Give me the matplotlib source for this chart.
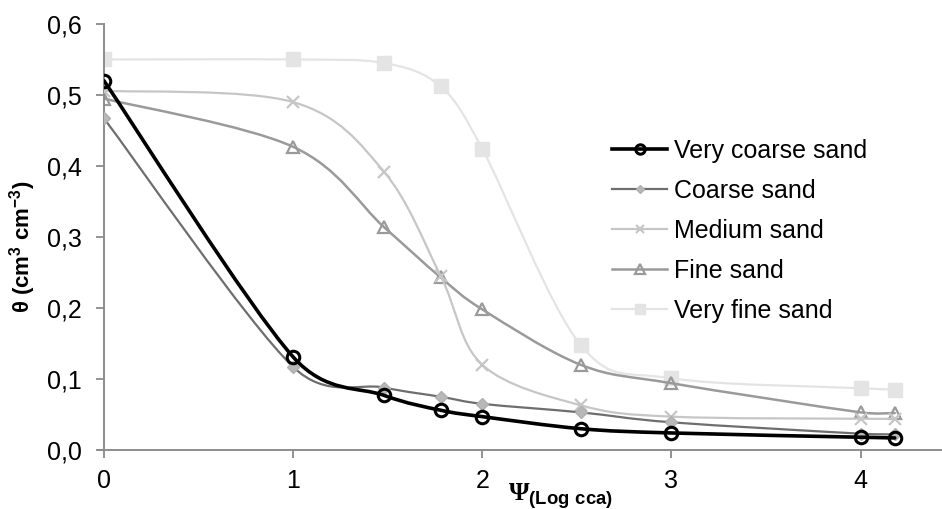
import numpy as np
import matplotlib.pyplot as plt
from matplotlib.path import Path
from matplotlib.patches import PathPatch
from matplotlib.lines import Line2D

plt.rcParams['font.family'] = ['Liberation Sans', 'DejaVu Sans']
plt.rcParams['mathtext.fontset'] = 'custom'
plt.rcParams['mathtext.rm'] = 'Liberation Serif:bold'
plt.rcParams['mathtext.bf'] = 'Liberation Sans:bold'

# suction, log10 of cm of water column
psi = [0, 1, 1.48, 1.78, 2, 2.52, 3, 4, 4.18]

very_coarse = [0.520, 0.131, 0.077, 0.056, 0.047, 0.030, 0.024, 0.018, 0.017]
coarse      = [0.467, 0.117, 0.088, 0.075, 0.065, 0.053, 0.039, 0.023, 0.022]
medium      = [0.506, 0.490, 0.392, 0.245, 0.120, 0.063, 0.047, 0.044, 0.044]
fine        = [0.495, 0.427, 0.314, 0.243, 0.198, 0.120, 0.094, 0.053, 0.052]
very_fine   = [0.550, 0.550, 0.545, 0.512, 0.424, 0.148, 0.101, 0.087, 0.085]

names = ['Very coarse sand', 'Coarse sand', 'Medium sand', 'Fine sand', 'Very fine sand']
y_ticks = [0.0, 0.1, 0.2, 0.3, 0.4, 0.5, 0.6]
x_ticks = [0, 1, 2, 3, 4]


def smooth_path(x, y, tr):
    # excel style smoothing: handles = 1/6 of neighbour chord, capped at half the segment
    p = np.column_stack([x, y]).astype(float)
    d = tr.transform(p)
    n = len(p)
    verts = [p[0]]
    codes = [Path.MOVETO]
    for i in range(n - 1):
        i0 = max(i - 1, 0)
        i3 = min(i + 2, n - 1)
        d12 = np.hypot(*(d[i + 1] - d[i]))
        d02 = np.hypot(*(d[i + 1] - d[i0]))
        d13 = np.hypot(*(d[i3] - d[i]))
        f0 = 1 / 6 if d02 / 6 < d12 / 2 else d12 / d02 / 2
        f3 = 1 / 6 if d13 / 6 < d12 / 2 else d12 / d13 / 2
        c1 = p[i] + (p[i + 1] - p[i0]) * f0
        c2 = p[i + 1] - (p[i3] - p[i]) * f3
        verts += [c1, c2, p[i + 1]]
        codes += [Path.CURVE4] * 3
    return Path(verts, codes)


styles = [
    dict(color='#000000', lw=2.6, marker='o', ms=9, mfc='none', mec='#000000', mew=2.2),
    dict(color='#6e6e6e', lw=1.6, marker='D', ms=6, mfc='#b8b8b8', mec='#b0b0b0', mew=1),
    dict(color='#c6c6c6', lw=1.6, marker='x', ms=8, mfc='none', mec='#c6c6c6', mew=1.6),
    dict(color='#9a9a9a', lw=1.8, marker='^', ms=9, mfc='none', mec='#9a9a9a', mew=1.6),
    dict(color='#e4e4e4', lw=1.6, marker='s', ms=10, mfc='#e4e4e4', mec='#e4e4e4', mew=1),
]

fig = plt.figure(figsize=(9.42, 5.09), dpi=100)
ax = fig.add_axes([104 / 942, 59 / 509, 1 - 104 / 942, 426 / 509])
ax.set_xlim(0, 4.43)
ax.set_ylim(0, 0.6)

series = [very_coarse, coarse, medium, fine, very_fine]
handles = []
for vals, st, name, z in zip(series, styles, names, [5, 4, 3, 2, 1]):
    ax.add_patch(PathPatch(smooth_path(psi, vals, ax.transData), fill=False,
                           edgecolor=st['color'], lw=st['lw'], zorder=z, capstyle='round'))
    ax.plot(psi, vals, ls='none', marker=st['marker'], ms=st['ms'], mfc=st['mfc'],
            mec=st['mec'], mew=st['mew'], zorder=z + 0.5)
    handles.append(Line2D([], [], color=st['color'], lw=st['lw'], marker=st['marker'],
                          ms=st['ms'] * 0.75, mfc=st['mfc'], mec=st['mec'], mew=st['mew']))

ax.set_xticks(x_ticks)
ax.set_xticklabels([str(t) for t in x_ticks], fontsize=18)
ax.set_yticks(y_ticks)
ax.set_yticklabels([f'{t:.1f}'.replace('.', ',') for t in y_ticks], fontsize=18)
ax.tick_params(axis='both', direction='out', length=6, color='#808080', width=1.2)
ax.tick_params(axis='x', pad=8)
ax.tick_params(axis='y', pad=10)
for s in ['top', 'right']:
    ax.spines[s].set_visible(False)
for s in ['left', 'bottom']:
    ax.spines[s].set_color('#8c8c8c')
    ax.spines[s].set_linewidth(1.4)
ax.spines['bottom'].set_bounds(-0.03, 4.43)

ax.set_ylabel(r'θ (cm$^{\mathbf{3}}$ cm$^{\mathbf{-3}}$)', fontsize=16, fontweight='bold')
ax.yaxis.set_label_coords(-0.079, 0.476)
ax.set_xlabel(r'$\Psi_{\mathbf{(Log\ cca)}}$', fontsize=19)
ax.xaxis.set_label_coords(0.545, -0.072)

fig.legend(handles, names, loc='upper left', bbox_to_anchor=(602 / 942, 1 - 129 / 509),
           frameon=False, fontsize=18, handlelength=2.2, handletextpad=0.3,
           labelspacing=0.64, borderaxespad=0)

fig.savefig('out.png', dpi=100)
